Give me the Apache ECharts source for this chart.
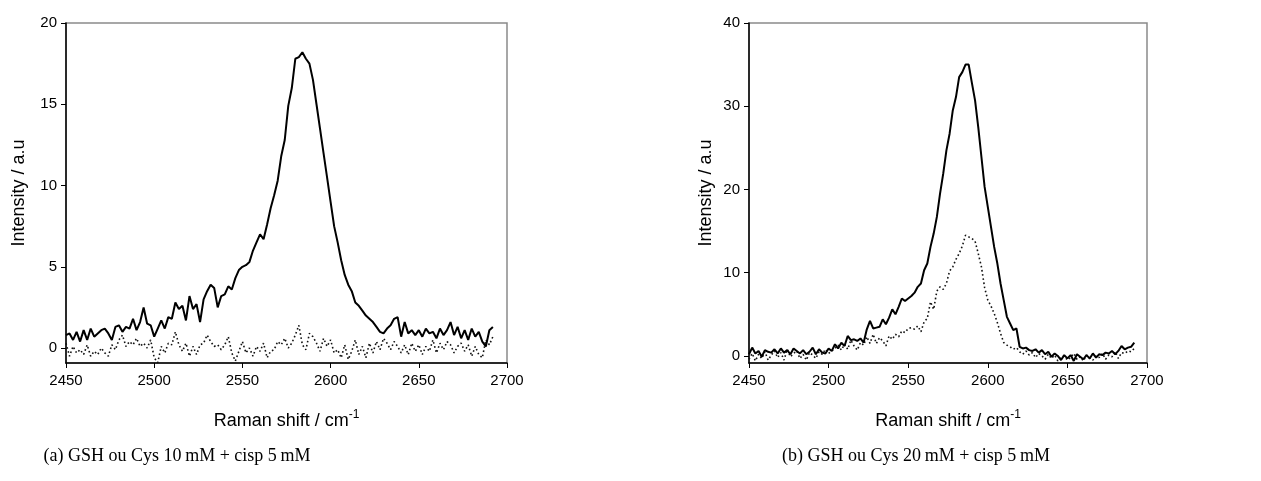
<!DOCTYPE html>
<html>
<head>
<meta charset="utf-8">
<script src="https://cdn.jsdelivr.net/npm/echarts@6/dist/echarts.min.js"></script>
<style>
html,body{margin:0;padding:0;background:#fff;}
#main{width:1261px;height:481px;}
</style>
</head>
<body>
<div id="main"></div>
<script>
// Raman shift (cm-1), same grid for both panels
var shift = [
 2450,2452,2454,2456,2458,2460,2462,2464,2466,2468,
 2470,2472,2474,2476,2478,2480,2482,2484,2486,2488,
 2490,2492,2494,2496,2498,2500,2502,2504,2506,2508,
 2510,2512,2514,2516,2518,2520,2522,2524,2526,2528,
 2530,2532,2534,2536,2538,2540,2542,2544,2546,2548,
 2550,2552,2554,2556,2558,2560,2562,2564,2566,2568,
 2570,2572,2574,2576,2578,2580,2582,2584,2586,2588,
 2590,2592,2594,2596,2598,2600,2602,2604,2606,2608,
 2610,2612,2614,2616,2618,2620,2622,2624,2626,2628,
 2630,2632,2634,2636,2638,2640,2642,2644,2646,2648,
 2650,2652,2654,2656,2658,2660,2662,2664,2666,2668,
 2670,2672,2674,2676,2678,2680,2682,2684,2686,2688,
 2690,2692
];
// (a) GSH ou Cys 10 mM + cisp 5 mM  - trait plein
var a_plein = [
 0.8,0.9,0.5,1.0,0.4,1.1,0.5,1.2,0.7,0.9,
 1.1,1.2,0.9,0.5,1.3,1.4,1.0,1.3,1.2,1.8,
 1.1,1.6,2.5,1.5,1.4,0.7,1.2,1.7,1.2,1.9,
 1.8,2.8,2.4,2.6,1.7,3.2,2.4,2.7,1.6,3.0,
 3.5,3.9,3.7,2.5,3.2,3.3,3.8,3.6,4.3,4.8,
 5.0,5.1,5.3,6.0,6.5,7.0,6.7,7.6,8.6,9.4,
 10.3,11.8,12.8,14.9,16.0,17.8,17.9,18.2,17.8,17.5,
 16.5,15.0,13.5,12.0,10.5,9.0,7.5,6.5,5.4,4.5,
 3.9,3.5,2.8,2.6,2.3,2.0,1.8,1.6,1.3,1.0,
 0.9,1.2,1.4,1.8,1.9,0.7,1.6,0.9,1.1,0.8,
 1.1,0.7,1.2,0.9,1.0,0.6,1.2,0.8,1.1,1.6,
 0.8,1.3,0.6,1.1,0.5,1.2,0.7,1.0,0.4,0.1,
 1.1,1.3
];
// (a) pointillés
var a_point = [
 0.3,-0.5,0.1,-0.3,-0.1,-0.4,0.2,-0.5,-0.2,-0.4,
 0.0,-0.3,-0.5,0.2,-0.1,0.5,0.8,0.1,0.4,0.2,
 0.6,0.1,0.3,0.0,0.5,-0.6,-0.9,0.1,-0.3,0.3,
 0.2,1.0,0.2,-0.2,0.3,-0.5,0.1,-0.4,0.2,0.3,
 0.8,0.4,0.1,0.2,-0.1,0.2,0.7,-0.3,-0.8,-0.2,
 0.4,-0.3,0.0,-0.5,0.1,-0.2,0.3,-0.6,-0.2,-0.1,
 0.4,0.2,0.6,0.0,0.3,0.8,1.4,0.2,-0.1,0.9,
 0.7,0.3,-0.2,0.6,0.1,0.5,-0.3,-0.1,-0.6,0.2,
 -0.7,-0.2,0.5,-0.4,0.1,-0.6,0.3,-0.3,0.4,-0.1,
 0.6,0.3,-0.1,0.4,0.1,-0.3,0.2,-0.4,0.3,-0.2,
 0.2,-0.4,0.1,-0.2,0.5,-0.3,0.3,-0.1,0.4,0.2,
 -0.3,0.1,0.3,-0.2,0.2,-0.5,0.1,-0.4,-0.6,0.5,
 0.2,0.7
];
// (b) GSH ou Cys 20 mM + cisp 5 mM - trait plein
var b_plein = [
 0.2,1.0,0.3,0.6,-0.1,0.7,0.5,0.4,0.8,0.3,
 0.9,0.4,0.7,0.2,0.9,0.6,0.3,0.7,0.2,0.5,
 1.0,0.2,0.8,0.4,0.3,0.9,0.6,1.4,0.9,1.6,
 1.2,2.4,1.9,2.0,1.8,2.1,1.6,3.2,4.2,3.3,
 3.4,3.5,4.4,3.8,4.6,5.6,5.0,5.9,6.9,6.6,
 6.9,7.2,7.6,8.3,8.7,10.3,11.1,13.1,14.7,16.7,
 19.5,21.9,24.7,26.7,29.5,31.1,33.5,34.1,35.0,35.0,
 32.8,30.7,27.5,23.9,20.3,17.9,15.5,13.1,11.1,8.7,
 6.7,4.7,3.9,3.1,3.3,1.1,0.9,1.0,0.7,0.6,
 0.8,0.4,0.7,0.2,0.5,-0.1,0.3,0.0,-0.5,0.1,
 -0.3,0.1,-0.6,0.2,-0.1,-0.4,0.1,-0.3,0.3,-0.2,
 0.2,0.1,0.4,0.3,0.6,0.2,0.6,1.2,0.8,1.0,
 1.1,1.6
];
// (b) pointillés
var b_point = [
 -0.4,0.3,-0.6,0.2,-0.3,0.5,-0.5,0.1,0.6,-0.2,
 0.4,-0.5,0.8,-0.1,0.3,0.6,-0.3,0.2,-0.5,0.4,
 0.1,-0.3,0.5,0.2,0.8,0.3,0.6,0.9,1.3,0.7,
 1.4,0.8,1.9,1.2,0.7,1.6,1.3,2.3,1.5,2.6,
 1.5,2.2,1.8,1.2,2.4,2.0,2.6,2.3,3.0,2.8,
 3.3,3.4,3.2,3.6,2.9,4.1,4.5,6.5,5.6,7.8,
 8.3,8.0,8.7,10.2,10.7,11.6,12.3,13.2,14.5,14.3,
 14.1,13.8,12.3,10.7,8.2,6.7,6.0,5.1,4.0,2.7,
 1.6,1.3,1.1,0.8,1.0,0.5,0.2,0.6,0.1,0.4,
 -0.2,0.3,0.0,-0.4,0.2,-0.3,0.1,-0.6,-0.2,0.0,
 -0.5,-0.2,0.3,-0.4,-0.1,-0.6,0.1,-0.3,-0.5,0.0,
 -0.2,0.3,-0.4,0.1,-0.1,0.5,-0.3,0.4,0.3,0.6,
 0.5,0.9
];
var ticks_a = [0,5,10,15,20];
var ticks_b = [0,10,20,30,40];
var captions = ['(a) GSH ou Cys 10\u2009mM + cisp 5\u2009mM', '(b) GSH ou Cys 20\u2009mM + cisp 5\u2009mM'];

function paires(xs, ys){
	var res = [];
	for (var i = 0; i < xs.length; i++) {
		res.push([xs[i], ys[i]]);
	}
	return res;
}

var police = '"Liberation Sans", Arial, sans-serif';

function axeX(idx){
	return {
		type:'value', gridIndex:idx, min:2450, max:2700, interval:50,
		name:'Raman shift / cm{sup|-1}', nameLocation:'middle', nameGap:46,
		nameTextStyle:{fontFamily:police, fontSize:18, color:'#000',
			rich:{sup:{fontFamily:police, fontSize:12, color:'#000', verticalAlign:'top', padding:[0,0,12,0]}}},
		axisLine:{onZero:false, lineStyle:{color:'#000', width:1.5}},
		axisTick:{inside:false, length:5, lineStyle:{color:'#000'}},
		axisLabel:{fontFamily:police, fontSize:15, color:'#000', margin:10,
			formatter:function(v){ return String(v); }},
		splitLine:{show:false}
	};
}
function axeY(idx, mn, mx, ticks, gap){
	return {
		type:'value', gridIndex:idx, min:mn, max:mx,
		name:'Intensity / a.u', nameLocation:'middle', nameGap:gap,
		nameTextStyle:{fontFamily:police, fontSize:18, color:'#000'},
		axisLine:{onZero:false, lineStyle:{color:'#000', width:1.5}},
		axisTick:{length:5, customValues:ticks, lineStyle:{color:'#000'}},
		axisLabel:{fontFamily:police, fontSize:15, color:'#000', margin:9, customValues:ticks},
		splitLine:{show:false}
	};
}
function courbe(idx, ys, pointille){
	return {
		type:'line', xAxisIndex:idx, yAxisIndex:idx, data:paires(shift, ys),
		showSymbol:false, symbol:'none', silent:true,
		lineStyle: pointille ? {color:'#111', width:1.6, type:[1.6,2.6]} : {color:'#000', width:2}
	};
}

var serif = '"Liberation Serif", "DejaVu Serif", serif';
var myChart = echarts.init(document.getElementById('main'));
var option = {
	animation:false,
	backgroundColor:'#fff',
	grid:[
		{left:66, top:23, width:441, height:340, show:true, borderColor:'#8a8a8a', borderWidth:1.5},
		{left:749, top:23, width:398, height:340, show:true, borderColor:'#8a8a8a', borderWidth:1.5}
	],
	xAxis:[axeX(0), axeX(1)],
	yAxis:[axeY(0, -0.92, 20, ticks_a, 38), axeY(1, -0.85, 40, ticks_b, 34)],
	series:[
		courbe(0, a_point, true),
		courbe(0, a_plein, false),
		courbe(1, b_point, true),
		courbe(1, b_plein, false)
	],
	graphic:[
		{type:'text', x:177, y:447, style:{text:captions[0], font:'18px ' + serif, fill:'#000', align:'center'}},
		{type:'text', x:916, y:447, style:{text:captions[1], font:'18px ' + serif, fill:'#000', align:'center'}}
	]
};
myChart.setOption(option);
</script>
</body>
</html>
